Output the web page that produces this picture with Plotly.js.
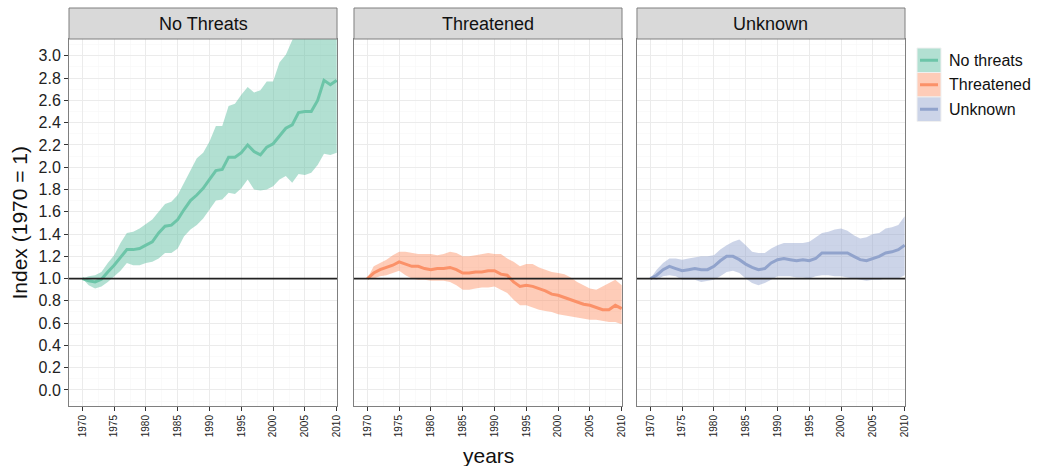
<!DOCTYPE html>
<html><head><meta charset="utf-8">
<script src="https://cdn.plot.ly/plotly-3.0.1.min.js"></script>
<style>body{margin:0;background:#fff}#chart{width:1050px;height:466px}</style>
</head><body><div id="chart"></div>
<script>
const years = [];
for (let y = 1970; y <= 2010; y++) years.push(y);

const panelTitles = ["No Threats", "Threatened", "Unknown"];
const seriesNames = ["No threats", "Threatened", "Unknown"];
const lineColors = ["#6cc5a8", "#fb9168", "#91a3cc"];
const fillColors = ["rgba(102,194,165,0.5)", "rgba(252,141,98,0.45)", "rgba(141,160,203,0.45)"];
const yTicks = [0, 0.2, 0.4, 0.6, 0.8, 1.0, 1.2, 1.4, 1.6, 1.8, 2.0, 2.2, 2.4, 2.6, 2.8, 3.0];
const xTicks = [1970, 1975, 1980, 1985, 1990, 1995, 2000, 2005, 2010];

const noThreatsMean = [1.0,0.98,0.97,0.995,1.06,1.12,1.19,1.26,1.26,1.27,1.30,1.33,1.41,1.47,1.48,1.53,1.62,1.70,1.75,1.81,1.89,1.97,1.98,2.09,2.09,2.13,2.20,2.14,2.11,2.18,2.21,2.28,2.35,2.38,2.49,2.50,2.50,2.60,2.78,2.74,2.78];
const noThreatsUpper = [1.0,1.02,1.03,1.06,1.14,1.21,1.32,1.41,1.42,1.45,1.49,1.53,1.60,1.67,1.69,1.75,1.86,1.97,2.08,2.13,2.23,2.37,2.37,2.55,2.57,2.65,2.72,2.67,2.69,2.77,2.77,2.94,3.01,3.14,3.25,3.30,3.35,3.45,3.60,3.55,3.60];
const noThreatsLower = [1.0,0.94,0.91,0.93,0.97,1.02,1.07,1.14,1.12,1.12,1.14,1.15,1.18,1.23,1.23,1.27,1.38,1.44,1.48,1.54,1.62,1.70,1.71,1.77,1.76,1.81,1.89,1.80,1.79,1.80,1.83,1.89,1.92,1.86,1.94,1.93,1.95,2.02,2.12,2.11,2.13];

const threatenedMean = [1.0,1.05,1.08,1.10,1.12,1.15,1.13,1.11,1.11,1.09,1.08,1.09,1.09,1.10,1.08,1.05,1.05,1.06,1.06,1.07,1.07,1.04,1.03,0.97,0.93,0.94,0.93,0.91,0.89,0.86,0.85,0.83,0.81,0.79,0.77,0.76,0.74,0.72,0.72,0.76,0.73];
const threatenedUpper = [1.0,1.11,1.14,1.17,1.21,1.24,1.24,1.23,1.22,1.22,1.22,1.21,1.22,1.24,1.23,1.20,1.20,1.21,1.22,1.23,1.22,1.22,1.18,1.15,1.11,1.13,1.13,1.10,1.08,1.06,1.05,1.04,1.01,0.97,0.94,0.91,0.90,0.93,0.96,0.99,0.94];
const threatenedLower = [1.0,1.0,1.02,1.03,1.05,1.07,1.03,1.00,0.99,0.99,0.98,0.98,0.98,0.97,0.94,0.90,0.90,0.91,0.92,0.92,0.93,0.90,0.87,0.81,0.76,0.76,0.74,0.72,0.71,0.70,0.68,0.67,0.66,0.65,0.64,0.63,0.63,0.62,0.61,0.61,0.59];

const unknownMean = [1.0,1.03,1.08,1.11,1.09,1.07,1.08,1.09,1.08,1.08,1.11,1.16,1.20,1.20,1.17,1.13,1.10,1.08,1.09,1.14,1.17,1.18,1.17,1.16,1.17,1.16,1.18,1.23,1.23,1.23,1.23,1.23,1.20,1.17,1.16,1.18,1.20,1.23,1.24,1.26,1.30];
const unknownUpper = [1.0,1.08,1.14,1.18,1.18,1.17,1.18,1.19,1.20,1.20,1.21,1.26,1.30,1.33,1.35,1.30,1.24,1.23,1.23,1.27,1.30,1.32,1.32,1.32,1.32,1.33,1.37,1.41,1.42,1.44,1.45,1.43,1.39,1.36,1.37,1.40,1.41,1.45,1.46,1.48,1.56];
const unknownLower = [1.0,0.99,1.02,1.03,1.02,0.99,0.99,0.99,0.97,0.98,0.99,1.02,1.06,1.07,1.05,1.00,0.96,0.94,0.96,0.99,1.02,1.02,1.02,1.01,1.01,1.00,1.02,1.03,1.03,1.02,1.02,1.01,1.00,0.99,0.98,0.99,0.99,1.00,1.00,1.00,1.03];

const means = [noThreatsMean, threatenedMean, unknownMean];
const uppers = [noThreatsUpper, threatenedUpper, unknownUpper];
const lowers = [noThreatsLower, threatenedLower, unknownLower];

const FONT = "Liberation Sans, Arial, sans-serif";
const domains = [[0, 0.3206], [0.3409, 0.6615], [0.6794, 1]];
const traces = [];
for (let i = 0; i < 3; i++) {
  const xa = i === 0 ? "x" : "x" + (i + 1);
  const ya = i === 0 ? "y" : "y" + (i + 1);
  traces.push({x: years, y: lowers[i], xaxis: xa, yaxis: ya, type: "scatter", mode: "lines",
    line: {width: 0}, hoverinfo: "skip", showlegend: false});
  traces.push({x: years, y: uppers[i], xaxis: xa, yaxis: ya, type: "scatter", mode: "lines",
    line: {width: 0}, fill: "tonexty", fillcolor: fillColors[i], hoverinfo: "skip", showlegend: false});
  traces.push({x: years, y: means[i], xaxis: xa, yaxis: ya, type: "scatter", mode: "lines",
    line: {width: 3, color: lineColors[i]}, name: seriesNames[i], showlegend: false});
}

const layout = {
  width: 1050, height: 466,
  margin: {l: 69, r: 145, t: 39, b: 60},
  paper_bgcolor: "#fff", plot_bgcolor: "#fff",
  font: {family: FONT, color: "#000"},
  showlegend: false,
  shapes: [], annotations: []
};
const plotH = 466 - 39 - 60, plotW = 1050 - 69 - 145;
for (let i = 0; i < 3; i++) {
  const sfx = i === 0 ? "" : String(i + 1);
  layout["xaxis" + sfx] = {
    domain: domains[i], anchor: "y" + sfx, range: [1967.9, 2010.05],
    tickvals: xTicks, ticktext: xTicks.map(String), tickangle: -90,
    tickfont: {size: 10, color: "#222"}, ticks: "outside", ticklen: 4, tickcolor: "#333",
    showgrid: true, gridcolor: "#ebebeb", gridwidth: 1,
    minor: {dtick: 2.5, tick0: 1967.5, showgrid: true, gridcolor: "#f6f6f6", gridwidth: 0.6},
    showline: true, linecolor: "#7f7f7f", linewidth: 1, mirror: true, zeroline: false
  };
  layout["yaxis" + sfx] = {
    domain: [0, 1], anchor: "x" + sfx, range: [-0.144, 3.151],
    tickvals: yTicks, ticktext: yTicks.map(v => v.toFixed(1)),
    showticklabels: i === 0, ticks: i === 0 ? "outside" : "", ticklen: 4, tickcolor: "#333",
    tickfont: {size: 16, color: "#222"},
    showgrid: true, gridcolor: "#ebebeb", gridwidth: 1,
    minor: {dtick: 0.1, tick0: 0.1, showgrid: true, gridcolor: "#f6f6f6", gridwidth: 0.6},
    showline: true, linecolor: "#7f7f7f", linewidth: 1, mirror: true, zeroline: false
  };
  layout.shapes.push({type: "line", xref: "x" + sfx + " domain", yref: "y" + sfx,
    x0: 0, x1: 1, y0: 1, y1: 1, line: {color: "#222", width: 1.6}});
  layout.shapes.push({type: "rect", xref: "paper", yref: "paper",
    x0: domains[i][0], x1: domains[i][1], y0: 1, y1: 1 + 31 / plotH,
    fillcolor: "#d9d9d9", line: {color: "#7f7f7f", width: 1}});
  layout.annotations.push({xref: "paper", yref: "paper", x: (domains[i][0] + domains[i][1]) / 2,
    y: 1 + 15.5 / plotH, text: panelTitles[i], showarrow: false,
    font: {size: 18, color: "#111", family: FONT}, xanchor: "center", yanchor: "middle"});
}
layout.annotations.push({xref: "paper", yref: "paper", x: (488 - 69) / plotW, y: -(455 - 406) / plotH,
  text: "years", showarrow: false, font: {size: 21, color: "#111"}, xanchor: "center", yanchor: "middle"});
layout.annotations.push({xref: "paper", yref: "paper", x: -(69 - 19) / plotW, y: 0.5,
  text: "Index (1970 = 1)", textangle: -90, showarrow: false, font: {size: 21, color: "#111"},
  xanchor: "center", yanchor: "middle"});
const lgX0 = (917 - 69) / plotW, lgX1 = (941 - 69) / plotW;
for (let i = 0; i < 3; i++) {
  const top = 48 + i * 24.5, bot = top + 24.5;
  const y0 = 1 - (bot - 39) / plotH, y1 = 1 - (top - 39) / plotH;
  layout.shapes.push({type: "rect", xref: "paper", yref: "paper", x0: lgX0, x1: lgX1, y0: y0, y1: y1,
    fillcolor: fillColors[i], line: {color: "#f0f0f0", width: 1}});
  const ym = (y0 + y1) / 2;
  layout.shapes.push({type: "line", xref: "paper", yref: "paper",
    x0: (920 - 69) / plotW, x1: (938 - 69) / plotW, y0: ym, y1: ym,
    line: {color: lineColors[i], width: 3}});
  layout.annotations.push({xref: "paper", yref: "paper", x: (947 - 69) / plotW, y: ym,
    text: seriesNames[i], showarrow: false, xanchor: "left", yanchor: "middle",
    font: {size: 16, color: "#111"}});
}
Plotly.newPlot("chart", traces, layout, {staticPlot: true});
</script></body></html>
